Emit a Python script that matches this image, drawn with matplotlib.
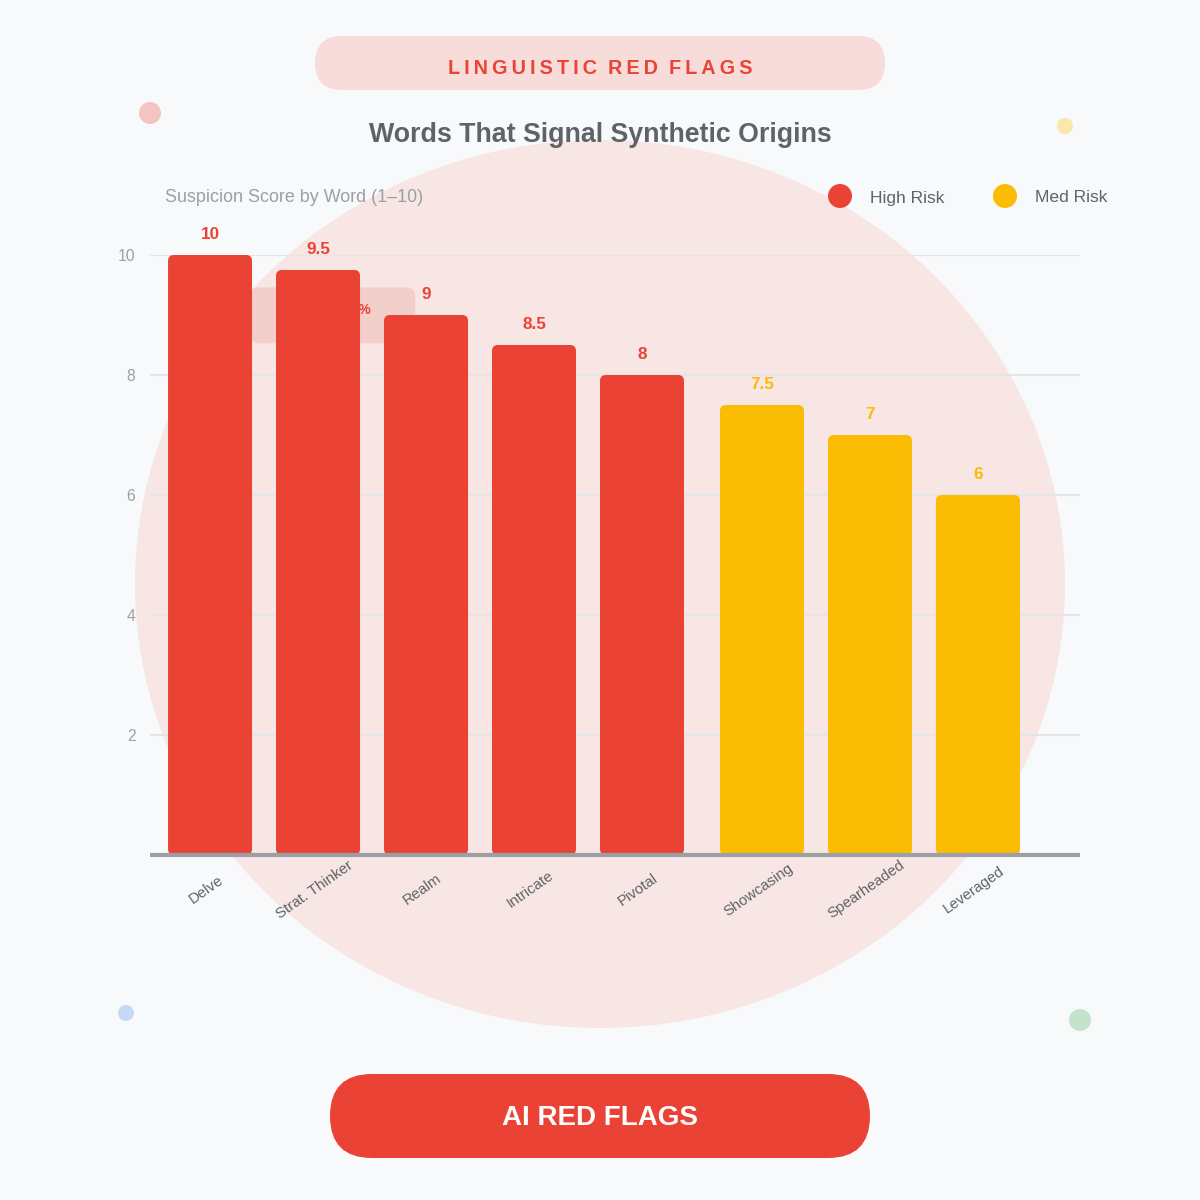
import numpy as np
import matplotlib.pyplot as plt
from matplotlib.patches import FancyBboxPatch, Ellipse, Circle

plt.rcParams['font.family'] = ['Liberation Sans', 'DejaVu Sans']

# data
words = ['Delve', 'Strat. Thinker', 'Realm', 'Intricate', 'Pivotal',
         'Showcasing', 'Spearheaded', 'Leveraged']
scores = [10, 9.75, 9, 8.5, 8, 7.5, 7, 6]
score_labels = ['10', '9.5', '9', '8.5', '8', '7.5', '7', '6']
risk = ['High', 'High', 'High', 'High', 'High', 'Med', 'Med', 'Med']

RED = '#ea4335'
YEL = '#fbbc04'
DARK = '#5f6368'
GREY = '#9aa0a6'
BG = '#f8f9fb'
colors = {'High': RED, 'Med': YEL}

fig = plt.figure(figsize=(12, 12), dpi=100, facecolor=BG)

# background layer in pixel coords
bg = fig.add_axes([0, 0, 1, 1], zorder=0)
bg.set_xlim(0, 1200)
bg.set_ylim(1200, 0)
bg.axis('off')
bg.add_patch(Ellipse((600, 584), 930, 888, color='#f7e6e4', lw=0))
for (cx, cy, r, c) in [(150, 113, 11, '#f4c4c0'), (1065, 126, 8, '#fbe7a8'),
                       (126, 1013, 8, '#c5d8f5'), (1080, 1020, 11, '#c4e3cc')]:
    bg.add_patch(Circle((cx, cy), r, color=c, lw=0))

bg.add_patch(FancyBboxPatch((315, 36), 570, 54, boxstyle='round,pad=0,rounding_size=27',
                            color='#f7dcda', lw=0))
head = '\u2009'.join('LINGUISTIC') + '  ' + '\u2009'.join('RED') + '  ' + '\u2009'.join('FLAGS')
bg.text(600, 68, head, color=RED, fontsize=14.3, fontweight='bold', ha='center', va='center')
bg.text(600, 135, 'Words That Signal Synthetic Origins', color=DARK, fontsize=19.3,
        fontweight='bold', ha='center', va='center')
bg.text(165, 198, 'Suspicion Score by Word (1\u201310)', color=GREY, fontsize=12.9,
        ha='left', va='center')

bg.add_patch(Circle((840, 196), 12, color=RED, lw=0))
bg.text(870, 198, 'High Risk', color=DARK, fontsize=12.6, va='center')
bg.add_patch(Circle((1005, 196), 12, color=YEL, lw=0))
bg.text(1035, 198, 'Med Risk', color=DARK, fontsize=12.6, va='center')

bg.add_patch(FancyBboxPatch((330, 1074), 540, 84, boxstyle='round,pad=0,rounding_size=42',
                            color=RED, lw=0))
bg.text(600, 1118, 'AI RED FLAGS', color='white', fontsize=20, fontweight='bold',
        ha='center', va='center')

# chart
ax = fig.add_axes([0.125, 0.2875, 0.775, 0.5], zorder=1)
ax.patch.set_alpha(0)
x = np.arange(len(words)) + np.array([0 if r == 'High' else 0.111 for r in risk])
ax.set_xlim(-0.556, 8.056)
ax.set_ylim(0, 10)

w = 0.778
for xi, v, lab, r in zip(x, scores, score_labels, risk):
    ax.add_patch(FancyBboxPatch((xi - w / 2, 0), w, v,
                                boxstyle='round,pad=0,rounding_size=0.055',
                                mutation_aspect=1.8, color=colors[r], lw=0, zorder=3))
    ax.text(xi, v + 0.22, lab, color=colors[r], fontsize=12.3, fontweight='bold',
            ha='center', va='bottom', zorder=4)

# stray annotation box behind the bars
ax.add_patch(FancyBboxPatch((0.37, 8.53), 1.53, 0.93, boxstyle='round,pad=0,rounding_size=0.08',
                            mutation_aspect=1.8, color='#f3cfcc', lw=0, zorder=1.5))
ax.text(1.49, 9.08, '92%', color=RED, fontsize=10, fontweight='bold', ha='right',
        va='center', zorder=2)

ax.set_yticks([2, 4, 6, 8, 10])
ax.yaxis.grid(True, color='#e3e5e8', lw=1.5, zorder=0)
ax.set_axisbelow(True)
ax.tick_params(axis='y', length=0, labelcolor=GREY, labelsize=11.3, pad=10.5)
ax.set_xticks(x - 0.035)
ax.set_xticklabels(words, rotation=35, color=DARK, fontsize=10.8, ha='center', va='center',
                   rotation_mode='anchor')
ax.tick_params(axis='x', length=0, pad=25)
for s in ['left', 'right', 'top']:
    ax.spines[s].set_visible(False)
ax.spines['bottom'].set_color(GREY)
ax.spines['bottom'].set_linewidth(3)
ax.spines['bottom'].set_capstyle('butt')
ax.spines['bottom'].set_zorder(5)

fig.savefig('out.png', dpi=100, facecolor=BG)
